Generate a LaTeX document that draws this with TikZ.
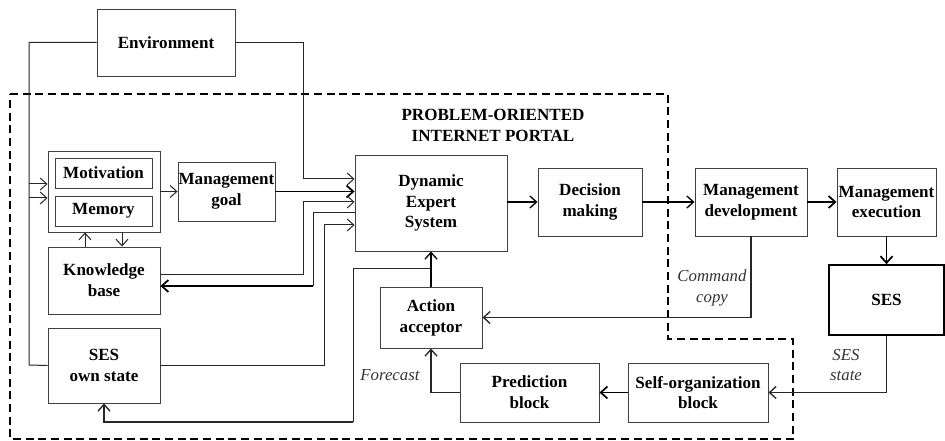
\documentclass[tikz,border=0pt]{standalone}
\usepackage{fontspec}
\setmainfont{Liberation Serif}
\usetikzlibrary{arrows.meta}

\begin{document}
\begin{tikzpicture}[
        x=0.75pt, y=-0.75pt, >={Straight Barb[length=5pt,width=9pt]},
        wh/.style 2 args={minimum width=#1*0.75pt, minimum height=#2*0.75pt},
        block/.style={draw=black!75, line width=0.7pt, inner sep=0pt, align=center,
          font=\bfseries\fontsize{12.8}{15.6}\selectfont},
        lbl/.style={font=\itshape\fontsize{12.6}{15.6}\selectfont, align=center, text=black!80},
        link/.style={draw=black!85, line width=0.75pt},
        arr/.style={link, ->},
        heavy/.style={draw=black, line width=1.3pt, ->},
        portal/.style={draw=black, line width=1.5pt, dash pattern=on 6pt off 3.5pt},
        ]
        \useasboundingbox (0,0) rectangle (945,441);

        % blocks
        \node[block, wh={138}{67}] (env)   at (166,42.5)  {Environment};
        \node[block, wh={112}{81}] (outer) at (104,191.5) {};
        \node[block, wh={97}{30}]  (mot)   at (103.5,173) {Motivation};
        \node[block, wh={97}{30}]  (mem)   at (103.5,211) {Memory};
        \node[block, wh={97}{59}]  (goal)  at (226.5,191.5) {Management\\goal};
        \node[block, wh={112}{67}] (kb)    at (104,280.5) {Knowledge\\base};
        \node[block, wh={112}{75}] (own)   at (104,365.5) {SES\\own state};
        \node[block, wh={152}{96}] (des)   at (431,203)   {Dynamic\\Expert\\System};
        \node[block, wh={104}{68}] (dec)   at (590,202)   {Decision\\making};
        \node[block, wh={112}{68}] (mdev)  at (751,202)   {Management\\development};
        \node[block, wh={99}{68}]  (mexe)  at (886.5,202) {Management\\execution};
        \node[block, wh={115}{70}, line width=1.3pt, draw=black] (ses) at (886.5,300) {SES};
        \node[block, wh={102}{61}] (acc)   at (431,317.5) {Action\\acceptor};
        \node[block, wh={139}{59}] (pred)  at (529.5,392.5) {Prediction\\block};
        \node[block, wh={140}{59}] (self)  at (698,392.5) {Self-organization\\block};

        \node[font=\bfseries\fontsize{12.8}{15.6}\selectfont, align=center] (title) at (493,125.5)
          {PROBLEM-ORIENTED\\INTERNET PORTAL};

        % portal border
        \draw[portal] (10,94) -- (668,94) -- (668,339) -- (793,339) -- (793,439) -- (10,439) -- cycle;

        % environment feeds
        \draw[link] (env.west) -| (29,365) -- (own.west);
        \coordinate (in1) at (29,184);
        \coordinate (in2) at (29,198);
        \draw[arr] (in1) -- (outer.west |- in1);
        \draw[arr] (in2) -- (outer.west |- in2);
        \draw[arr] (env.east) -| (303,179) -- (des.west |- 0,179);

        % left side
        \draw[arr] (outer) -- (goal);
        \draw[heavy] (goal.east) -- (des.west |- goal.east);
        \draw[arr] (kb.north -| 85,0) -- (outer.south -| 85,0);
        \draw[arr] (outer.south -| 122,0) -- (kb.north -| 122,0);
        \draw[arr] (kb.east |- 0,275) -| (303,202) -- (des.west |- 0,202);
        \draw[link] (des.west |- 0,213) -| (313,286);
        \draw[heavy] (313,286) -- (kb.east |- 0,286);
        \draw[arr] (own.east) -| (324,225) -- (des.west |- 0,225);

        % main chain
        \draw[heavy, line width=1pt] (des.east |- dec.west) -- (dec.west);
        \draw[heavy, line width=1pt] (dec) -- (mdev);
        \draw[heavy] (mdev) -- (mexe);
        \draw[heavy] (mexe) -- (ses);

        % feedback
        \draw[arr, line width=1pt] (mdev.south) |- (acc.east);
        \node[lbl] (cmd) at (712,288) {Command\\copy};
        \draw[arr, line width=1pt] (ses.south) |- (self.east);
        \node[lbl] (sst) at (846,365) {SES\\state};
        \draw[heavy] (self) -- (pred);
        \draw[arr, line width=1pt] (pred.west) -| (acc.south);
        \node[lbl] (fc) at (390,375) {Forecast};
        \draw[heavy, line width=1pt] (acc) -- (des);
        \coordinate (fb) at (acc.north |- 0,269);
        \draw[link] (fb) -| (353,422);
        \draw[arr, line width=1pt] (353,422) -| (own.south);
      \end{tikzpicture}
\end{document}
